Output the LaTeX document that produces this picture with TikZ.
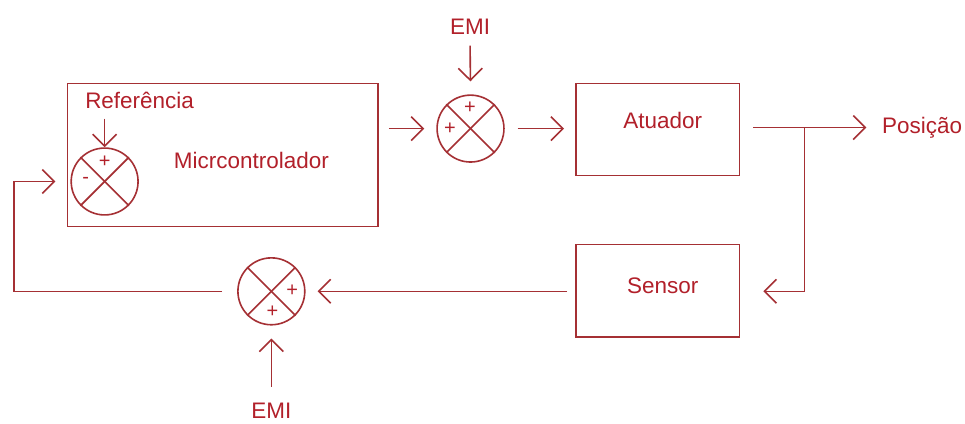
\documentclass[tikz,border=0pt]{standalone}
\usepackage{fontspec}
\setmainfont{Liberation Sans}
\usetikzlibrary{arrows.meta}
\definecolor{wire}{RGB}{165,48,52}
\definecolor{ink}{RGB}{178,32,42}
\begin{document}
\begin{tikzpicture}[x=1pt,y=-1pt,
  line width=1.6pt,
  every path/.style={draw=wire},
  arr/.style={-{Straight Barb[length=12pt,width=24pt]}},
  blockbox/.style={draw=wire,line width=1.6pt,inner sep=0,minimum width=164pt,minimum height=92pt},
  junction/.style={draw=wire,line width=1.6pt,circle,inner sep=0,minimum size=67pt},
  lbl/.style={text=ink,inner sep=0,font=\fontsize{22.5}{27}\selectfont},
  sgn/.style={text=ink,inner sep=0,font=\fontsize{20}{22}\selectfont}]
\useasboundingbox (0,0) rectangle (965,423);
\fill[white] (0,0) rectangle (965,423);

% blocks
\node[blockbox,minimum width=311pt,minimum height=143pt] (uc) at (222.5,154.5) {};
\node[blockbox] (act) at (658,129) {};
\node[blockbox,minimum height=93pt] (sen) at (658,290.5) {};
\node[lbl,anchor=base] (uct) at (251,168) {Micrcontrolador};
\node[lbl,anchor=base] (actt) at (663,128) {Atuador};
\node[lbl,anchor=base] (sent) at (663,293) {Sensor};

% summing junctions
\node[junction] (s1) at (104,181) {};
\node[junction] (s2) at (470.5,128) {};
\node[junction] (s3) at (271,291) {};
\foreach \s in {s1,s2,s3}{
  \draw (\s.north east) -- (\s.south west);
  \draw (\s.north west) -- (\s.south east);
}
\node[sgn] (s1a) at (104,161) {+};
\node[sgn] (s1b) at (85,180) {-};
\node[sgn] (s2a) at (470,107) {+};
\node[sgn] (s2b) at (450,128) {+};
\node[sgn] (s3a) at (292,290) {+};
\node[sgn] (s3b) at (272,311) {+};

% external labels
\node[lbl,anchor=base] (ref) at (139,108) {Referência};
\node[lbl,anchor=base] (emia) at (470,34) {EMI};
\node[lbl,anchor=base] (emib) at (271,418) {EMI};
\node[lbl,anchor=base west] (pos) at (882,133) {Posição};

% signal path
\coordinate (refin) at (104,118);
\draw[arr] (refin) -- (s1.north);
\draw[arr,shorten <=10pt,shorten >=12pt] (uc.east |- s2.west) -- (s2.west);
\draw[arr,shorten <=10pt,shorten >=13pt] (emia.north |- 0,35) -- (s2.north);
\draw[arr,shorten <=13pt,shorten >=11pt] (s2.east) -- (act.west |- s2.east);
\coordinate (br) at (805,127);
\draw[arr,shorten <=13pt,shorten >=15pt] (act.east |- br) -- (pos.west |- br);
\draw[arr,shorten >=23pt] (br) |- (sen.east |- s3.east);
\draw[arr,shorten <=8pt,shorten >=12pt] (sen.west |- s3.east) -- (s3.east);
\draw[arr,shorten <=15pt,shorten >=13pt] (emib.north) -- (s3.south);
\coordinate (fbc) at (13,181);
\draw[arr,shorten <=15pt,shorten >=15pt] (s3.west) -| (fbc) -- (s1.west);
\end{tikzpicture}
\end{document}
